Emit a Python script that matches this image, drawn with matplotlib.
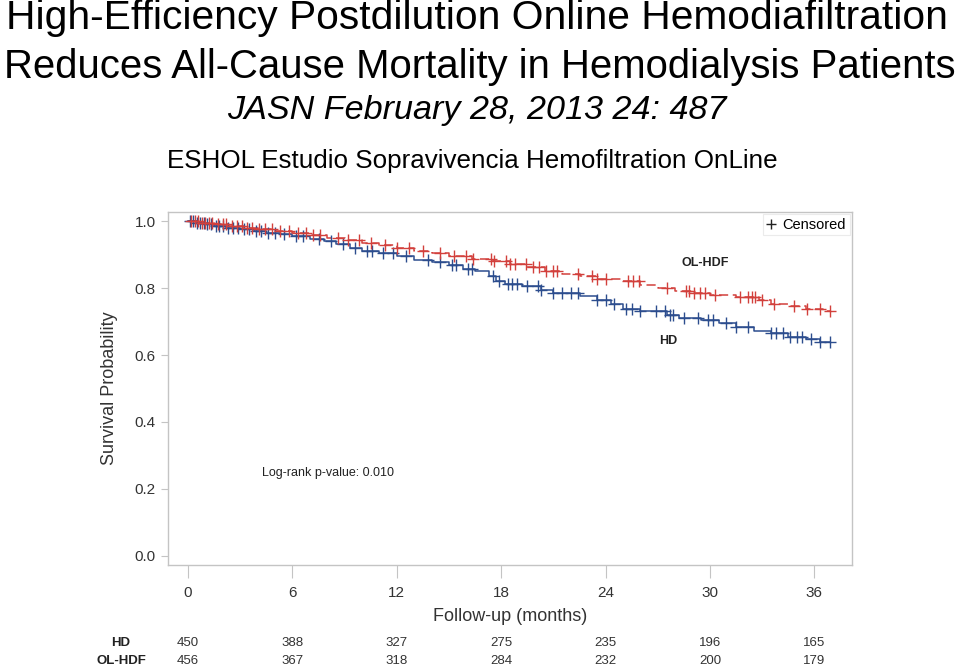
import numpy as np
import matplotlib
matplotlib.use("Agg")
import matplotlib.pyplot as plt
from matplotlib.lines import Line2D
import matplotlib.transforms as mtransforms

plt.rcParams['font.family'] = ['Liberation Sans', 'DejaVu Sans']

# ── Data ──────────────────────────────────────────────────────────
hd_t = [0, 0.5, 1.0, 1.5, 2.2, 3.0, 3.8, 4.5, 5.3, 6.0, 7.0, 7.8, 8.5, 9.3, 10.0,
        11.0, 12.0, 13.0, 14.0, 15.0, 15.8, 16.5, 17.3, 17.7, 18.2, 19.2, 20.3,
        21.0, 22.5, 23.5, 24.3, 25.0, 26.0, 27.5, 28.2, 29.5, 30.5, 31.5, 32.5,
        33.5, 34.5, 35.5, 36.3, 36.9]
hd_s = [1.0, 0.995, 0.99, 0.985, 0.98, 0.975, 0.97, 0.965, 0.96, 0.955, 0.945,
        0.94, 0.93, 0.92, 0.912, 0.905, 0.895, 0.885, 0.877, 0.87, 0.858, 0.852,
        0.835, 0.822, 0.812, 0.805, 0.795, 0.785, 0.775, 0.765, 0.752, 0.738,
        0.73, 0.72, 0.71, 0.705, 0.695, 0.685, 0.672, 0.665, 0.655, 0.648, 0.64,
        0.64]
hd_cens = [0.1, 0.3, 0.5, 0.7, 0.9, 1.1, 1.3, 1.6, 1.8, 2.0, 2.3, 2.6, 2.9, 3.2,
           3.5, 3.9, 4.2, 4.6, 5.0, 5.5, 6.2, 6.6, 7.5, 8.2, 8.9, 9.6, 10.3, 10.6,
           11.2, 11.8, 12.5, 13.8, 14.5, 15.2, 15.4, 16.1, 16.3, 17.5, 17.9, 18.4,
           18.6, 18.9, 19.5, 20.1, 20.3, 21.0, 21.5, 22.0, 22.4, 23.5, 24.0, 24.5,
           25.2, 25.5, 26.0, 26.9, 27.4, 27.7, 27.9, 28.5, 29.3, 29.9, 30.2, 30.9,
           31.5, 32.2, 33.5, 33.8, 34.2, 34.6, 35.0, 35.3, 35.8, 36.3, 36.9]

hdf_t = [0, 0.7, 1.5, 2.3, 3.2, 4.0, 5.0, 6.0, 7.0, 8.0, 9.0, 10.0, 11.0, 12.0,
         13.0, 14.0, 15.0, 16.3, 17.5, 18.5, 19.5, 20.5, 21.5, 22.5, 23.5, 25.0,
         26.0, 27.0, 28.0, 29.0, 30.0, 31.5, 32.8, 33.5, 34.5, 35.5, 36.5, 36.9]
hdf_s = [1.0, 0.995, 0.99, 0.985, 0.98, 0.975, 0.97, 0.965, 0.958, 0.95, 0.942,
         0.935, 0.928, 0.92, 0.912, 0.905, 0.895, 0.888, 0.88, 0.872, 0.862, 0.85,
         0.842, 0.835, 0.828, 0.82, 0.81, 0.8, 0.79, 0.785, 0.778, 0.772, 0.765,
         0.752, 0.745, 0.738, 0.73, 0.73]
hdf_cens = [0.2, 0.4, 0.6, 0.8, 1.0, 1.2, 1.4, 1.7, 2.0, 2.2, 2.5, 2.8, 3.1, 3.4,
            3.7, 4.1, 4.4, 4.8, 5.3, 5.8, 6.3, 6.8, 7.2, 7.6, 8.6, 9.2, 9.8, 10.5,
            11.3, 12.0, 12.7, 13.5, 14.5, 15.3, 16.0, 16.4, 17.4, 17.6, 18.3, 18.5,
            18.8, 19.4, 19.8, 20.2, 20.6, 21.0, 21.2, 22.4, 23.2, 23.5, 24.0, 25.3,
            25.6, 25.9, 27.5, 28.6, 28.8, 29.1, 29.4, 29.7, 30.3, 31.7, 32.2, 32.4,
            32.6, 33.0, 33.7, 34.8, 35.6, 36.3, 36.9]

risk_months = [0, 6, 12, 18, 24, 30, 36]
risk_hd = [450, 388, 327, 275, 235, 196, 165]
risk_hdf = [456, 367, 318, 284, 232, 200, 179]

blue = '#2c4d8e'
red = '#d2403c'
grey = '#c4c4c4'
txt = '#333333'

# ── Figure ────────────────────────────────────────────────────────
fig = plt.figure(figsize=(9.59, 6.71), dpi=100, facecolor='white')

fig.text(0.497, 1 - 18 / 671, 'High-Efficiency Postdilution Online Hemodiafiltration',
         ha='center', va='center', fontsize=29.3, color='black')
fig.text(0.5, 1 - 67 / 671, 'Reduces All-Cause Mortality in Hemodialysis Patients',
         ha='center', va='center', fontsize=28.9, color='black')
fig.text(0.497, 1 - 110 / 671, 'JASN February 28, 2013 24: 487',
         ha='center', va='center', fontsize=24.6, style='italic', color='black')
fig.text(0.492, 1 - 161 / 671, 'ESHOL Estudio Sopravivencia Hemofiltration OnLine',
         ha='center', va='center', fontsize=18.7, color='black')

ax = fig.add_axes([168 / 959, 1 - 565 / 671, (852 - 168) / 959, (565 - 212) / 671])

ax.step(hd_t, hd_s, where='post', color=blue, lw=1.1, zorder=3)
ax.step(hdf_t, hdf_s, where='post', color=red, lw=1.1, ls=(0, (6, 3)), zorder=3)

# censor marks sit on the curve
def surv_at(times, t_steps, s_steps):
    idx = np.searchsorted(t_steps, times, side='right') - 1
    return np.array(s_steps)[idx]

ax.plot(hd_cens, surv_at(hd_cens, hd_t, hd_s), ls='none', marker='+',
        ms=8, mew=1.0, color=blue, zorder=4)
ax.plot(hdf_cens, surv_at(hdf_cens, hdf_t, hdf_s), ls='none', marker='+',
        ms=8, mew=1.0, color=red, zorder=4)

ax.set_xlim(-1.15, 38.16)
ax.set_ylim(-0.027, 1.027)
ax.set_xticks(risk_months)
ax.set_yticks([0.0, 0.2, 0.4, 0.6, 0.8, 1.0])
ax.set_yticklabels(['0.0', '0.2', '0.4', '0.6', '0.8', '1.0'])
ax.tick_params(axis='x', length=9, pad=6, color=grey, labelsize=11, labelcolor=txt)
ax.tick_params(axis='y', length=5, pad=4, color=grey, labelsize=11, labelcolor=txt)
for sp in ax.spines.values():
    sp.set_color(grey)
    sp.set_linewidth(1.0)

ax.set_xlabel('Follow-up (months)', fontsize=13, color=txt, labelpad=6)
ax.set_ylabel('Survival Probability', fontsize=13, color=txt, labelpad=12)

ax.text(29.7, 0.875, 'OL-HDF', fontsize=9, fontweight='bold', ha='center',
        va='center', color='#222222')
ax.text(27.6, 0.642, 'HD', fontsize=9, fontweight='bold', ha='center',
        va='center', color='#222222')
ax.text(4.25, 0.248, 'Log-rank p-value: 0.010', fontsize=9, ha='left',
        va='center', color='#222222')

leg = ax.legend(handles=[Line2D([], [], ls='none', marker='+', ms=7, mew=1,
                                color='#222222', label='Censored')],
                loc='upper right', fontsize=10.5, frameon=True, fancybox=False,
                handlelength=0.6, handletextpad=0.5, borderpad=0.25,
                borderaxespad=0.15)
leg.get_frame().set_edgecolor('#e6e6e6')
leg.get_frame().set_linewidth(0.8)

# number at risk table
trans = mtransforms.blended_transform_factory(ax.transData, fig.transFigure)
y_hd = 1 - 643 / 671
y_hdf = 1 - 661 / 671
fig.text(121 / 959, y_hd, 'HD', ha='center', va='center', fontsize=9.5,
         fontweight='bold', color='#222222')
fig.text(121 / 959, y_hdf, 'OL-HDF', ha='center', va='center', fontsize=9.5,
         fontweight='bold', color='#222222')
for m, a, b in zip(risk_months, risk_hd, risk_hdf):
    ax.text(m, y_hd, str(a), transform=trans, ha='center', va='center',
            fontsize=9.5, color=txt, clip_on=False)
    ax.text(m, y_hdf, str(b), transform=trans, ha='center', va='center',
            fontsize=9.5, color=txt, clip_on=False)

fig.savefig('out.png', dpi=100, facecolor='white')
